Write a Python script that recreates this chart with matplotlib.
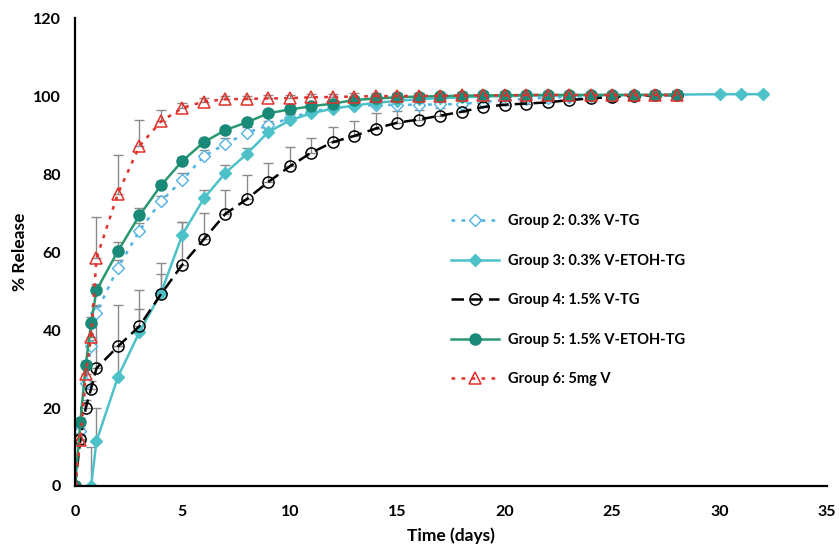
import numpy as np
import matplotlib.pyplot as plt

plt.rcParams['font.family'] = ['Lato', 'DejaVu Sans']
plt.rcParams['font.weight'] = 'bold'

# tempi di campionamento (giorni)
tempi = [0, 0.25, 0.5, 0.75, 1] + list(range(2, 29))
tempi_g3 = [0.75, 1] + list(range(2, 29)) + [30, 31, 32]

# rilascio % per gruppo
g2 = [0, 14, 26.5, 36, 44.5, 56, 65.5, 73, 78.5, 84.6, 87.7, 90.6, 92.5, 94.4, 96, 97,
      97.5, 97.7, 97.8, 97.8, 97.9, 98, 98.5, 99, 99.3, 99.6, 99.8, 100, 100.1, 100.2, 100.3, 100.3]
g3 = [0, 11.5, 28, 39.5, 49.5, 64.5, 73.8, 80.3, 85.2, 90.8, 93.8, 95.6, 96.8, 97.6, 98.3, 98.8,
      99.2, 99.5, 99.7, 99.9, 100, 100.1, 100.2, 100.2, 100.3, 100.3, 100.3, 100.3, 100.4,
      100.5, 100.5, 100.5]
g4 = [0, 12, 20, 25, 30.2, 35.8, 41, 49.2, 56.8, 63.3, 69.8, 73.6, 78, 82, 85.5, 88.2, 89.8,
      91.7, 93.2, 94, 95, 96, 97.2, 97.8, 98.1, 98.4, 99, 99.4, 99.8, 100.1, 100.2, 100.3]
g5 = [0, 16.5, 31, 41.8, 50.2, 60.3, 69.4, 77.1, 83.4, 88.2, 91.3, 93.3, 95.6, 96.6, 97.4, 98.1,
      99, 99.4, 99.7, 99.9, 100, 100.1, 100.2, 100.2, 100.3, 100.3, 100.3, 100.3, 100.3, 100.3,
      100.3, 100.3]
g6 = [0, 11.7, 28.8, 38.3, 58.4, 75, 87.2, 93.5, 97, 98.6, 99.2, 99.3, 99.4, 99.5, 99.7, 99.8,
      99.9, 100, 100, 100.1, 100.1, 100.2, 100.2, 100.2, 100.3, 100.3, 100.3, 100.3, 100.3, 100.3,
      100.3, 100.3]

# barre di errore (solo positive)
e2 = [0, 1, 1, 1.5, 2, 2, 2, 1.5, 1.7, 1.5, 1.5, 1.5, 1.2, 1, 1, 1, 1, 1, 1, 1, 1, 1, 1, 1, 1,
      0.8, 0.8, 0.8, 0.8, 0.8, 0.8, 0.8]
e3 = [10, 8.5, 8, 5.8, 5, 3.3, 2, 2, 1.5, 1, 1, 1, 1, 1, 1, 1, 1, 1, 1, 1, 1, 0.8, 0.8, 0.8,
      0.8, 0.8, 0.8, 0.8, 0.8, 0.5, 0.5, 0.5]
e4 = [0, 1, 2, 2, 16, 10.5, 9.4, 8, 11, 6.7, 6, 6.2, 4.9, 5, 3.8, 3.8, 3.7, 3.9, 3, 2.5, 2,
      1.5, 1.2, 1, 1, 1, 1, 1, 1, 1, 1, 1]
e5 = [0, 1, 1, 1.5, 1.5, 2.2, 1.8, 1.2, 1, 0.8, 0.8, 0.8, 0.8, 0.8, 0.8, 0.8, 0.8, 0.8, 0.8,
      0.8, 0.8, 0.8, 0.8, 0.8, 0.8, 0.8, 0.8, 0.8, 0.8, 0.8, 0.8, 0.8]
e6 = [0, 1.5, 2, 3, 10.5, 10, 6.8, 3, 1.2, 0.8, 0.8, 0.8, 0.8, 0.8, 0.8, 0.8, 0.8, 0.8, 0.8,
      0.8, 0.8, 0.8, 0.8, 0.8, 0.8, 0.8, 0.8, 0.8, 0.8, 0.8, 0.8, 0.8]

etichette = ['Group 2: 0.3% V-TG', 'Group 3: 0.3% V-ETOH-TG', 'Group 4: 1.5% V-TG',
             'Group 5: 1.5% V-ETOH-TG', 'Group 6: 5mg V']

fig = plt.figure(figsize=(8.39, 5.51), dpi=100)
ax = fig.add_axes([0.0894, 0.118, 0.8963, 0.849])

grigio = '#8a8a8a'
serie = [
    (tempi, g2, e2, dict(color='#4fb4e3', ls=(0, (1.5, 2.5)), marker='D', ms=6.5, mfc='white', mec='#4fb4e3')),
    (tempi_g3, g3, e3, dict(color='#4cc2c8', ls='-', marker='D', ms=6.5, mfc='#4cc2c8', mec='#4cc2c8')),
    (tempi, g4, e4, dict(color='black', ls=(0, (5, 2.5)), marker='o', ms=8, mfc='none', mec='black', mew=1.1)),
    (tempi, g5, e5, dict(color='#2a9870', ls='-', marker='o', ms=8, mfc='#1a8a78', mec='#1a8a78')),
    (tempi, g6, e6, dict(color='#e3302a', ls=(0, (1.5, 2.5)), marker='^', ms=8, mfc='none', mec='#e3302a', mew=1.1)),
]

for (x, y, e, stile), lab in zip(serie, etichette):
    ax.errorbar(x, y, yerr=[np.zeros(len(e)), e], fmt='none', ecolor=grigio, elinewidth=1,
                capsize=3.5, capthick=1, zorder=1)
for (x, y, e, stile), lab in zip(serie, etichette):
    ax.plot(x, y, lw=1.8, label=lab, zorder=2, **stile)

ax.set_xlim(0, 35)
ax.set_ylim(0, 120)
ax.set_xticks(range(0, 36, 5))
ax.set_yticks(range(0, 121, 20))
ax.tick_params(length=0, labelsize=11.5)
ax.tick_params(axis='x', pad=14)
ax.tick_params(axis='y', pad=10)
for s in ['top', 'right']:
    ax.spines[s].set_visible(False)
for s in ['left', 'bottom']:
    ax.spines[s].set_linewidth(1.6)
ax.set_xlabel('Time (days)', fontsize=12.5, fontweight='bold', labelpad=6)
ax.set_ylabel('% Release', fontsize=12.5, fontweight='bold', labelpad=4)

ax.legend(loc='upper left', bbox_to_anchor=(444 / 839, 1 - 207 / 551), bbox_transform=fig.transFigure,
          frameon=False, fontsize=10.5, labelspacing=1.75, handlelength=3.3, handletextpad=0.6,
          borderpad=0)

plt.savefig('out.png', dpi=100)
